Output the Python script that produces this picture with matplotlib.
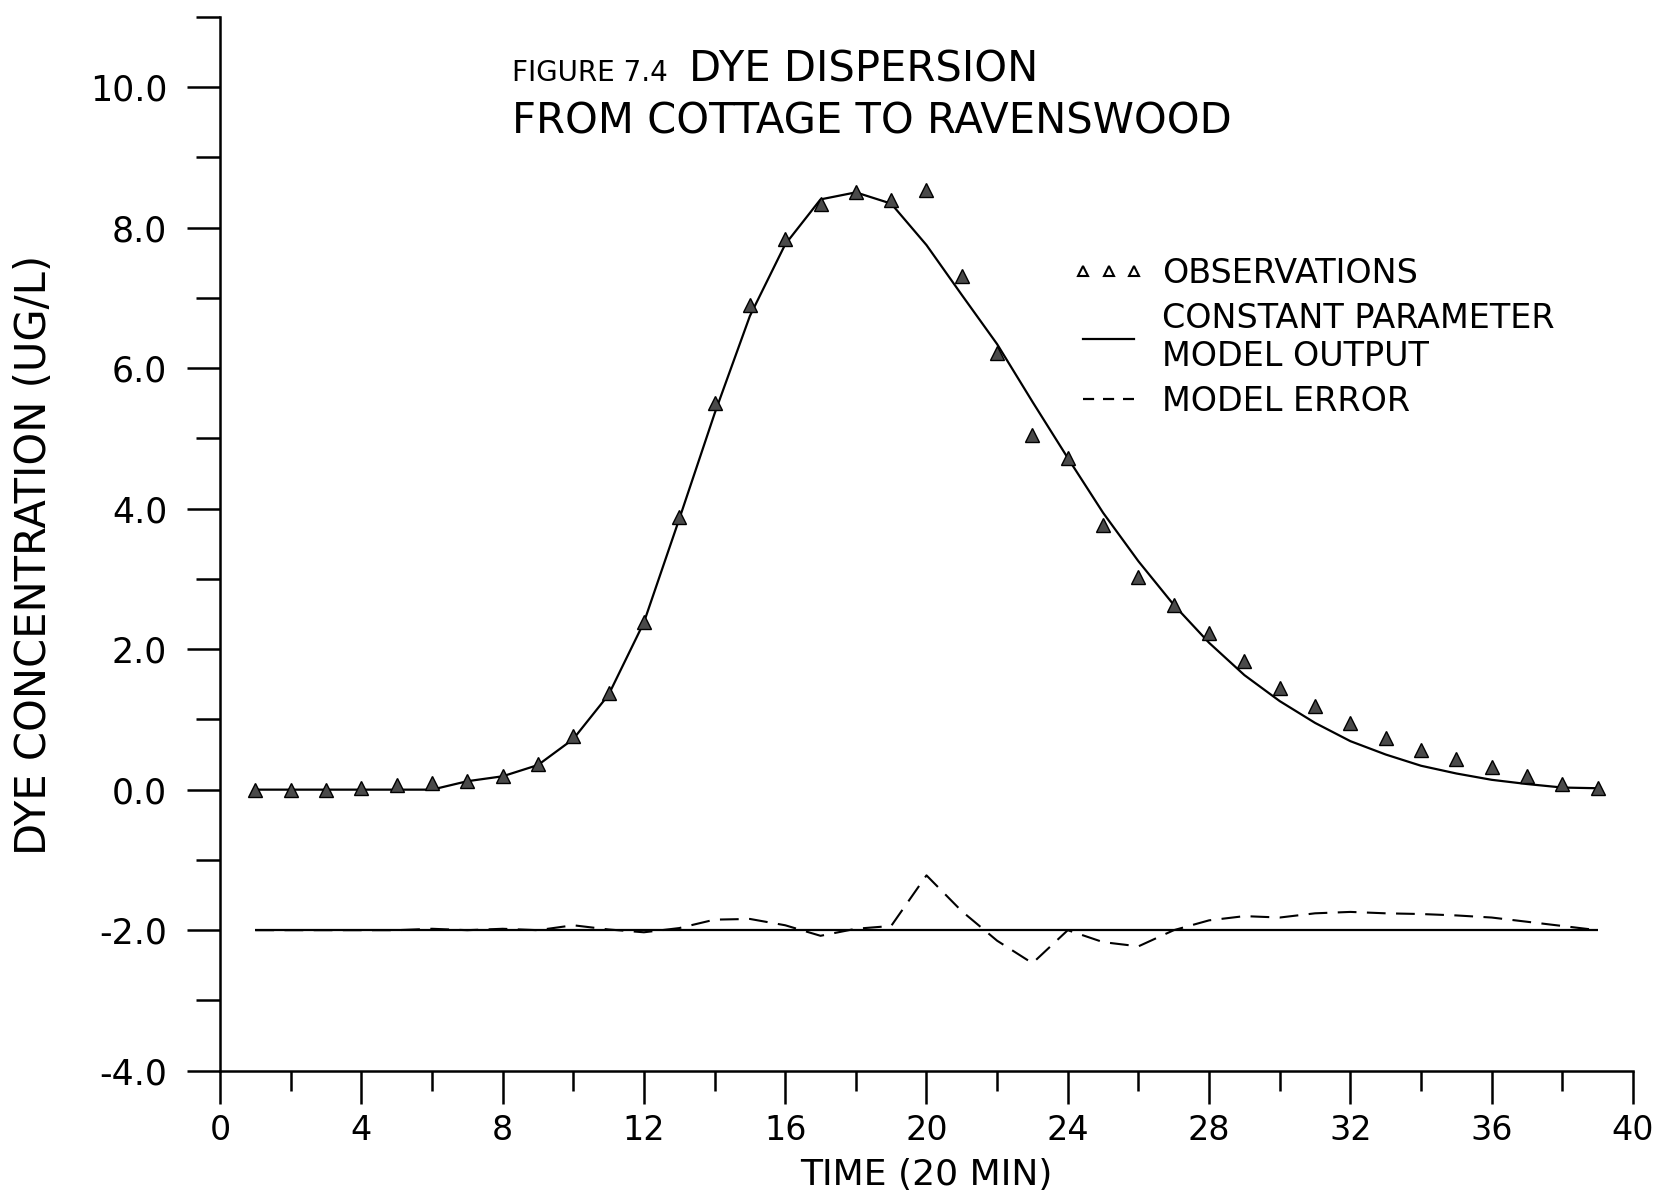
import matplotlib
matplotlib.use("Agg")
import matplotlib.pyplot as plt
from matplotlib.lines import Line2D
from matplotlib.ticker import FixedLocator, FixedFormatter

# ---- data ----
time = list(range(1, 40))
observations = [0.00, 0.00, 0.00, 0.03, 0.07, 0.10, 0.13, 0.20, 0.36, 0.77,
                1.37, 2.39, 3.88, 5.50, 6.90, 7.83, 8.33, 8.51, 8.39, 8.53,
                7.31, 6.21, 5.05, 4.72, 3.77, 3.02, 2.63, 2.23, 1.83, 1.44,
                1.19, 0.95, 0.74, 0.56, 0.44, 0.32, 0.20, 0.08, 0.03]
model_output = [0.00, 0.00, 0.00, 0.00, 0.00, 0.00, 0.12, 0.19, 0.35, 0.72,
                1.35, 2.38, 3.85, 5.35, 6.74, 7.76, 8.40, 8.50, 8.34, 7.75,
                7.04, 6.34, 5.52, 4.72, 3.94, 3.25, 2.63, 2.09, 1.63, 1.26,
                0.95, 0.69, 0.50, 0.34, 0.23, 0.14, 0.08, 0.03, 0.02]
model_error = [0.00, 0.00, 0.00, 0.00, 0.00, 0.02, 0.00, 0.02, 0.00, 0.07,
               0.01, -0.03, 0.03, 0.15, 0.16, 0.07, -0.08, 0.02, 0.06, 0.78,
               0.27, -0.15, -0.47, 0.00, -0.17, -0.23, 0.00, 0.14, 0.20, 0.18,
               0.24, 0.26, 0.24, 0.23, 0.21, 0.18, 0.12, 0.06, 0.00]
error_baseline = -2.0

x_major = [0, 4, 8, 12, 16, 20, 24, 28, 32, 36, 40]
x_minor = [2, 6, 10, 14, 18, 22, 26, 30, 34, 38]
x_labels = ["0", "4", "8", "12", "16", "20", "24", "28", "32", "36", "40"]
y_major = [-4, -2, 0, 2, 4, 6, 8, 10]
y_minor = [-3, -1, 1, 3, 5, 7, 9, 11]
y_labels = ["-4.0", "-2.0", "0.0", "2.0", "4.0", "6.0", "8.0", "10.0"]

title_small = "FIGURE 7.4"
title_line1 = "DYE DISPERSION"
title_line2 = "FROM COTTAGE TO RAVENSWOOD"
legend_labels = ["OBSERVATIONS", "CONSTANT PARAMETER\nMODEL OUTPUT", "MODEL ERROR"]

plt.rcParams['font.family'] = ['DejaVu Sans']

fig = plt.figure(figsize=(16.58, 11.93), dpi=100)
ax = fig.add_axes([0.1327, 0.1025, 0.8522, 0.8835])

ax.plot(time, model_output, color='black', lw=1.6, zorder=2)
ax.plot(time, observations, linestyle='none', marker='^', ms=10,
        mfc='#4a4a4a', mec='black', mew=1.0, zorder=3)
ax.hlines(error_baseline, time[0], time[-1], color='black', lw=1.6, zorder=2)
ax.plot(time, [e + error_baseline for e in model_error], color='black',
        lw=1.5, linestyle=(0, (9, 5)), zorder=2)

ax.set_xlim(0, 40)
ax.set_ylim(-4, 11)

for s in ['top', 'right']:
    ax.spines[s].set_visible(False)
for s in ['left', 'bottom']:
    ax.spines[s].set_linewidth(1.8)

ax.xaxis.set_major_locator(FixedLocator(x_major))
ax.xaxis.set_major_formatter(FixedFormatter(x_labels))
ax.xaxis.set_minor_locator(FixedLocator(x_minor))
ax.yaxis.set_major_locator(FixedLocator(y_major))
ax.yaxis.set_major_formatter(FixedFormatter(y_labels))
ax.yaxis.set_minor_locator(FixedLocator(y_minor))

ax.tick_params(axis='x', which='major', direction='out', length=24, width=1.8,
               labelsize=24, pad=7)
ax.tick_params(axis='x', which='minor', direction='out', length=14.5, width=1.8)
ax.tick_params(axis='y', which='major', direction='out', length=24, width=1.8,
               labelsize=25, pad=14)
ax.tick_params(axis='y', which='minor', direction='out', length=17, width=1.8)

ax.set_xlabel("TIME (20 MIN)", fontsize=26)
ax.xaxis.set_label_coords(0.5, -0.083)
ax.set_ylabel("DYE CONCENTRATION (UG/L)", fontsize=30)
ax.yaxis.set_label_coords(-0.117, 0.489)

fig.text(0.3088, 0.932, title_small, fontsize=20, va='baseline', ha='left')
fig.text(0.4156, 0.932, title_line1, fontsize=30, va='baseline', ha='left')
fig.text(0.3088, 0.8885, title_line2, fontsize=30, va='baseline', ha='left')

handles = [
    Line2D([], [], linestyle='none', marker='^', ms=7, mfc='white',
           mec='black', mew=1.5),
    Line2D([], [], color='black', lw=1.6),
    Line2D([], [], color='black', lw=1.6, linestyle=(0, (5, 4))),
]
leg = ax.legend(handles, legend_labels, loc='upper left',
                bbox_to_anchor=(0.604, 0.772), frameon=False, fontsize=24,
                numpoints=3, handlelength=2.13, handletextpad=0.54,
                labelspacing=0.35, borderpad=0, borderaxespad=0)

fig.savefig("out.png", dpi=100)
